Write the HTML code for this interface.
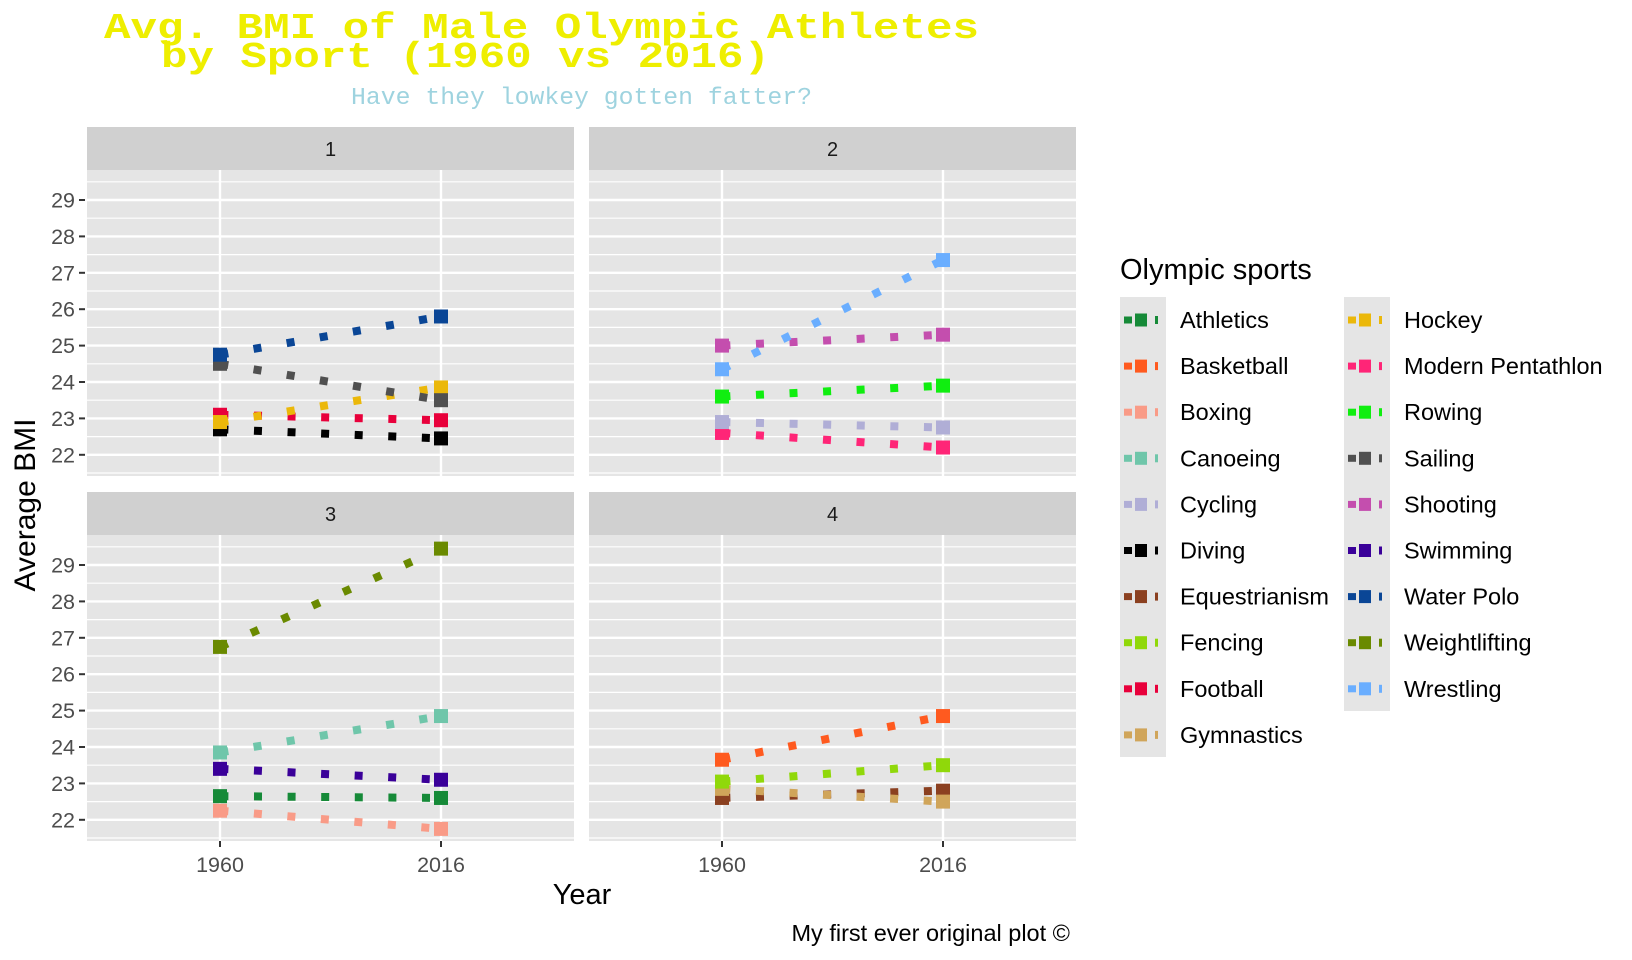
<!DOCTYPE html>
<html><head><meta charset="utf-8"><style>
html,body{margin:0;padding:0;background:#fff;}
svg{display:block;font-family:"Liberation Sans",sans-serif;}
</style></head><body>
<svg id="s" width="1632" height="960" xmlns="http://www.w3.org/2000/svg">
<rect width="1632" height="960" fill="#fff"/>
<text x="104" y="38" font-family="Liberation Mono,monospace" font-weight="bold" font-size="36" fill="#eeee00" textLength="875" lengthAdjust="spacingAndGlyphs">Avg. BMI of Male Olympic Athletes</text>
<text x="161" y="67" font-family="Liberation Mono,monospace" font-weight="bold" font-size="36" fill="#eeee00" textLength="609" lengthAdjust="spacingAndGlyphs">by Sport (1960 vs 2016)</text>
<text x="351" y="104" font-family="Liberation Mono,monospace" font-size="24" fill="#9ed3df" textLength="461" lengthAdjust="spacingAndGlyphs">Have they lowkey gotten fatter?</text>
<g id="panels"></g>
<text transform="translate(35,505) rotate(-90)" text-anchor="middle" font-size="30" fill="#000">Average BMI</text>
<text x="582" y="904" text-anchor="middle" font-size="29" fill="#000">Year</text>
<text x="1070" y="941" text-anchor="end" font-size="23.5" fill="#000">My first ever original plot ©</text>
<text x="1120" y="279" font-size="29" fill="#000">Olympic sports</text>
<g id="legend"></g>
</svg>
<script>
var C={Athletics:"#168a38",Basketball:"#ff5a1f",Boxing:"#f99b87",Canoeing:"#6fc6aa",Cycling:"#b0aed6",Diving:"#000000",Equestrianism:"#8b4020",Fencing:"#90d80a",Football:"#e8003b",Gymnastics:"#d0a55a",Hockey:"#ebb80a","Modern Pentathlon":"#ff2577",Rowing:"#10ee10",Sailing:"#505050",Shooting:"#c44eae",Swimming:"#3a0099","Water Polo":"#0a4696",Weightlifting:"#6a8a00",Wrestling:"#6aaeff"};
var P=[
 {x:87,y:170,t:"1",d:[["Diving",22.7,22.45],["Football",23.1,22.95],["Hockey",22.9,23.85],["Sailing",24.5,23.5],["Water Polo",24.75,25.8]]},
 {x:589,y:170,t:"2",d:[["Modern Pentathlon",22.6,22.2],["Cycling",22.9,22.75],["Rowing",23.6,23.9],["Shooting",25.0,25.3],["Wrestling",24.35,27.35]]},
 {x:87,y:535,t:"3",d:[["Boxing",22.25,21.75],["Athletics",22.65,22.6],["Swimming",23.4,23.1],["Canoeing",23.85,24.85],["Weightlifting",26.75,29.45]]},
 {x:589,y:535,t:"4",d:[["Equestrianism",22.6,22.8],["Gymnastics",22.85,22.5],["Fencing",23.05,23.5],["Basketball",23.65,24.85]]}
];
var h="",W=487,H=306,U=36.4;
P.forEach(function(p){
 var bottom=p.y+H;
 function Y(v){return p.y+30+(29-v)*U;}
 h+='<rect x="'+p.x+'" y="'+(p.y-43)+'" width="'+W+'" height="43" fill="#d0d0d0"/>';
 h+='<text x="'+(p.x+W/2)+'" y="'+(p.y-14)+'" text-anchor="middle" font-size="20" fill="#1a1a1a">'+p.t+'</text>';
 h+='<rect x="'+p.x+'" y="'+p.y+'" width="'+W+'" height="'+H+'" fill="#e5e5e5"/>';
 for(var v=21.5;v<=29.6;v+=0.5){var y=Y(v);if(y<p.y||y>bottom)continue;
  h+='<line x1="'+p.x+'" x2="'+(p.x+W)+'" y1="'+y+'" y2="'+y+'" stroke="#fff" stroke-width="'+(v%1==0?2.4:1.2)+'"/>';}
 [133,354].forEach(function(dx){h+='<line x1="'+(p.x+dx)+'" x2="'+(p.x+dx)+'" y1="'+p.y+'" y2="'+bottom+'" stroke="#fff" stroke-width="2.4"/>';});
 if(p.x<100){for(var v=22;v<=29;v++){var y=Y(v);
  h+='<line x1="79" x2="85" y1="'+y+'" y2="'+y+'" stroke="#333" stroke-width="2"/>';
  h+='<text x="75" y="'+(y+7.5)+'" text-anchor="end" font-size="21.5" fill="#4d4d4d">'+v+'</text>';}}
 if(p.y>500){[["1960",133],["2016",354]].forEach(function(a){var x=p.x+a[1];
  h+='<line x1="'+x+'" x2="'+x+'" y1="'+bottom+'" y2="'+(bottom+6)+'" stroke="#333" stroke-width="2"/>';
  h+='<text x="'+x+'" y="'+(bottom+31)+'" text-anchor="middle" font-size="21.5" fill="#4d4d4d">'+a[0]+'</text>';});}
 var x1=p.x+133,x2=p.x+354;
 p.d.forEach(function(s){var c=C[s[0]],y1=Y(s[1]),y2=Y(s[2]);
  h+='<line x1="'+x1+'" y1="'+y1+'" x2="'+x2+'" y2="'+y2+'" stroke="'+c+'" stroke-width="8" stroke-dasharray="8 25.6" stroke-dashoffset="-0.4"/>';
  h+='<rect x="'+(x1-7)+'" y="'+(y1-7)+'" width="14" height="14" fill="'+c+'"/>';
  h+='<rect x="'+(x2-7)+'" y="'+(y2-7)+'" width="14" height="14" fill="'+c+'"/>';});
});
document.getElementById("panels").innerHTML=h;
var names=Object.keys(C),g="";
g+='<rect x="1120" y="297" width="46" height="460" fill="#e5e5e5"/>';
g+='<rect x="1344" y="297" width="46" height="414" fill="#e5e5e5"/>';
names.forEach(function(n,i){var col=i<10?0:1,r=i<10?i:i-10,kx=col?1344:1120,cy=320+r*46.1,c=C[n];
 g+='<rect x="'+(kx+4)+'" y="'+(cy-3.5)+'" width="8" height="7" fill="'+c+'"/>';
 g+='<rect x="'+(kx+15)+'" y="'+(cy-6.5)+'" width="12" height="13" fill="'+c+'"/>';
 g+='<rect x="'+(kx+35)+'" y="'+(cy-4)+'" width="3" height="8" fill="'+c+'"/>';
 g+='<text x="'+(kx+60)+'" y="'+(cy+8)+'" font-size="23.5" fill="#000">'+n+'</text>';});
document.getElementById("legend").innerHTML=g;
</script>
</body></html>
